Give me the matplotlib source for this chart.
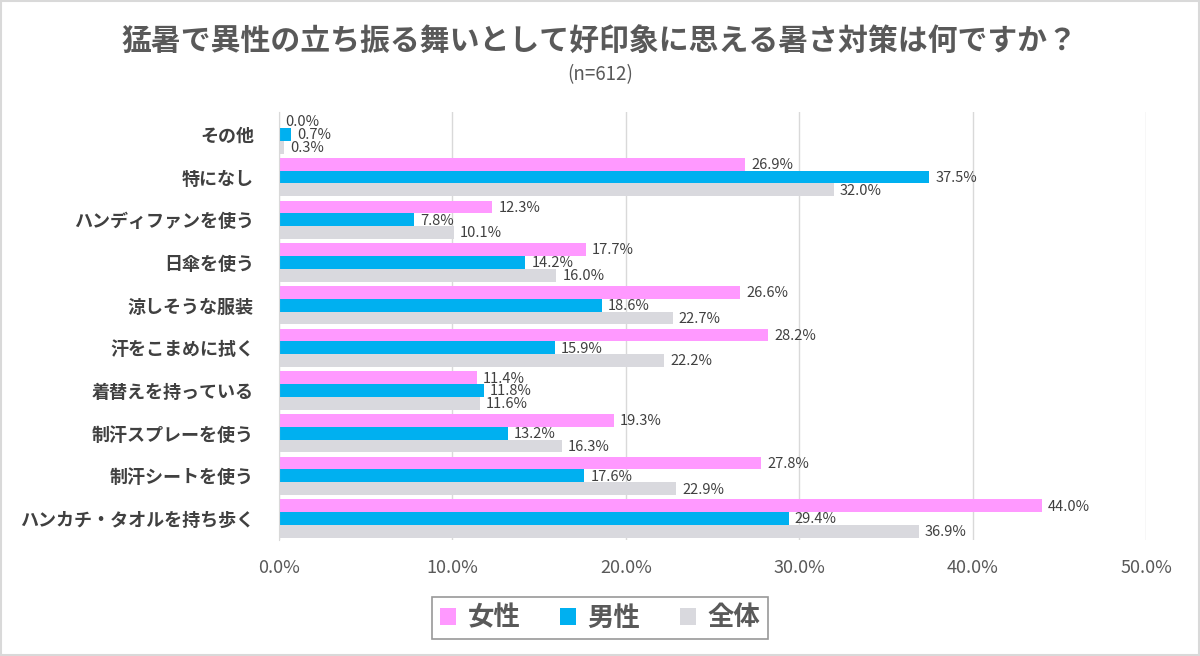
import numpy as np
import matplotlib.pyplot as plt
from matplotlib.patches import Rectangle

plt.rcParams['font.family'] = ['Noto Sans CJK JP', 'DejaVu Sans']

categories = ["その他", "特になし", "ハンディファンを使う", "日傘を使う", "涼しそうな服装",
              "汗をこまめに拭く", "着替えを持っている", "制汗スプレーを使う", "制汗シートを使う",
              "ハンカチ・タオルを持ち歩く"]
female = [0.0, 26.9, 12.3, 17.7, 26.6, 28.2, 11.4, 19.3, 27.8, 44.0]
male = [0.7, 37.5, 7.8, 14.2, 18.6, 15.9, 11.8, 13.2, 17.6, 29.4]
total = [0.3, 32.0, 10.1, 16.0, 22.7, 22.2, 11.6, 16.3, 22.9, 36.9]
series = ["女性", "男性", "全体"]
colors = ["#FF99FF", "#00B0F0", "#D9D9DE"]

fig = plt.figure(figsize=(12, 6.56), dpi=100)
ax = fig.add_axes([0.2325, 0.177, 0.7225, 0.652])

y = np.arange(len(categories))
h = 0.3
for i, (vals, c, name) in enumerate(zip([female, male, total], colors, series)):
    pos = y + (i - 1) * h
    ax.barh(pos, vals, height=h, color=c, label=name)
    for p, v in zip(pos, vals):
        ax.text(v + 0.35, p + 0.02, f"{v:.1f}%", va="center", ha="left",
                fontsize=10.5, color="#404040")

ax.set_xlim(0, 50)
ax.set_ylim(len(categories) - 0.5, -0.52)
ax.set_xticks(np.arange(0, 51, 10))
ax.set_xticklabels([f"{t:.1f}%" for t in np.arange(0, 51, 10)], fontsize=13, color="#595959")
ax.set_yticks(y)
ax.set_yticklabels(categories, fontsize=13, color="#404040", fontweight="bold")
ax.tick_params(axis="both", length=0)
ax.tick_params(axis="x", pad=14)
ax.tick_params(axis="y", pad=18)
ax.grid(axis="x", color="#D9D9D9", linewidth=1)
ax.set_axisbelow(True)
for s in ["top", "right", "bottom"]:
    ax.spines[s].set_visible(False)
ax.spines["left"].set_color("#D9D9D9")

fig.text(0.5, 0.938, "猛暑で異性の立ち振る舞いとして好印象に思える暑さ対策は何ですか？",
         ha="center", va="center", fontsize=21.5, fontweight="bold", color="#595959")
fig.text(0.5, 0.887, "(n=612)", ha="center", va="center", fontsize=13.5, color="#595959")

leg = fig.legend(loc="center", bbox_to_anchor=(0.5, 0.058), ncol=3,
                 prop={"size": 19, "weight": "bold"}, frameon=True, fancybox=False,
                 handlelength=0.6, handleheight=0.6, handletextpad=0.45, columnspacing=1.5,
                 borderpad=0.3)
leg.get_frame().set_edgecolor("#7F7F7F")
leg.get_frame().set_linewidth(1.2)
for t in leg.get_texts():
    t.set_color("#595959")

fig.patches.append(Rectangle((0.001, 0.001), 0.998, 0.997, transform=fig.transFigure,
                             fill=False, edgecolor="#D9D9D9", linewidth=1.5))

fig.savefig("out.png", dpi=100)
